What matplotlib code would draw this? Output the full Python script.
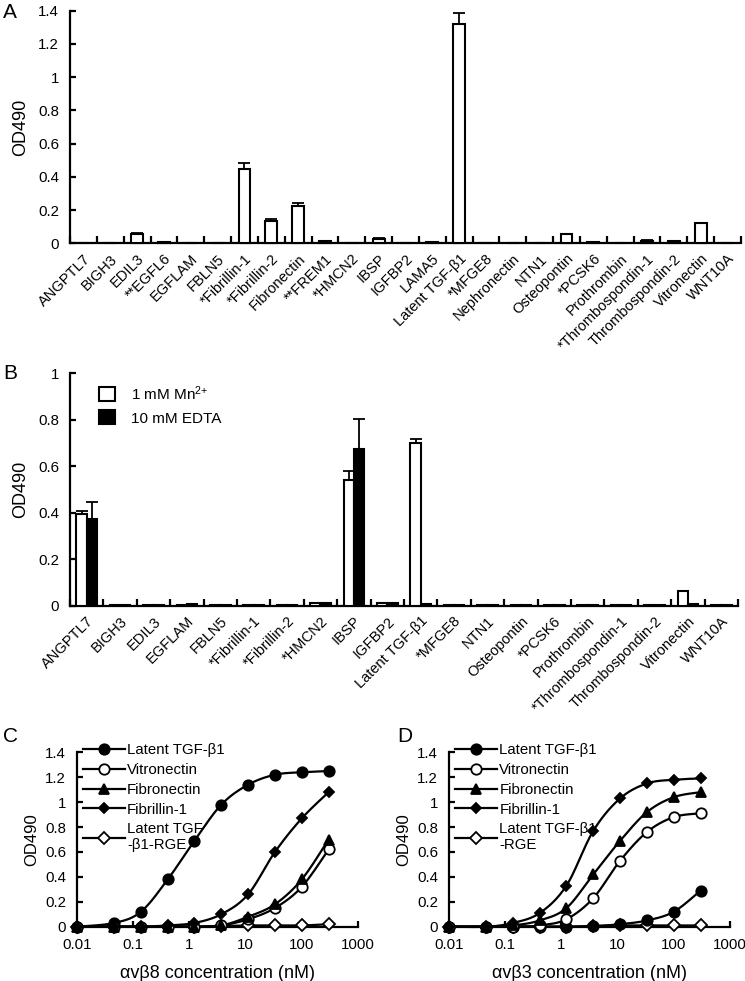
import numpy as np
import matplotlib
matplotlib.use("Agg")
import matplotlib.pyplot as plt
from matplotlib.ticker import FixedLocator, NullFormatter, FuncFormatter
from matplotlib.patches import Patch
from matplotlib.lines import Line2D

plt.rcParams['font.family'] = ['Liberation Sans', 'DejaVu Sans']
plt.rcParams['mathtext.fontset'] = 'custom'
plt.rcParams['mathtext.rm'] = 'Liberation Sans'
plt.rcParams['mathtext.it'] = 'Liberation Sans'

# ---------------- Panel A data ----------------
cats_a = ["ANGPTL7", "BIGH3", "EDIL3", "**EGFL6", "EGFLAM", "FBLN5", "*Fibrillin-1",
          "*Fibrillin-2", "Fibronectin", "**FREM1", "*HMCN2", "IBSP", "IGFBP2", "LAMA5",
          "Latent TGF-β1", "*MFGE8", "Nephronectin", "NTN1", "Osteopontin", "*PCSK6",
          "Prothrombin", "*Thrombospondin-1", "Thrombospondin-2", "Vitronectin", "WNT10A"]
vals_a = [0.002, 0.002, 0.057, 0.008, 0.003, 0.004, 0.446, 0.134, 0.226, 0.015, 0.003,
          0.028, 0.003, 0.006, 1.321, 0.003, 0.003, 0.003, 0.054, 0.007, 0.003, 0.015,
          0.015, 0.120, 0.004]
err_a = [0.0, 0.0, 0.004, 0.0, 0.0, 0.0, 0.037, 0.011, 0.014, 0.0, 0.0, 0.003, 0.0, 0.0,
         0.068, 0.0, 0.0, 0.0, 0.002, 0.0, 0.0, 0.002, 0.0, 0.002, 0.0]

# ---------------- Panel B data ----------------
cats_b = ["ANGPTL7", "BIGH3", "EDIL3", "EGFLAM", "FBLN5", "*Fibrillin-1", "*Fibrillin-2",
          "*HMCN2", "IBSP", "IGFBP2", "Latent TGF-β1", "*MFGE8", "NTN1", "Osteopontin",
          "*PCSK6", "Prothrombin", "*Thrombospondin-1", "Thrombospondin-2", "Vitronectin",
          "WNT10A"]
mn_b = [0.393, 0.003, 0.003, 0.005, 0.003, 0.003, 0.003, 0.010, 0.542, 0.010, 0.700,
        0.004, 0.003, 0.003, 0.003, 0.003, 0.003, 0.003, 0.065, 0.004]
mn_err_b = [0.015, 0, 0, 0, 0, 0, 0, 0, 0.038, 0, 0.018, 0, 0, 0, 0, 0, 0, 0, 0, 0]
edta_b = [0.373, 0.003, 0.003, 0.006, 0.003, 0.003, 0.003, 0.010, 0.676, 0.012, 0.008,
          0.003, 0.003, 0.003, 0.003, 0.003, 0.003, 0.003, 0.008, 0.004]
edta_err_b = [0.073, 0, 0, 0, 0, 0, 0, 0, 0.129, 0, 0, 0, 0, 0, 0, 0, 0, 0, 0, 0]
legend_b = ["1 mM Mn$^{2{+}}$", "10 mM EDTA"]

# ---------------- Panels C/D data ----------------
conc = [0.01, 0.046, 0.137, 0.412, 1.23, 3.7, 11.1, 33.3, 100, 300]
c_latent = [0.0, 0.03, 0.12, 0.38, 0.69, 0.98, 1.14, 1.22, 1.24, 1.25]
c_vitro = [0.0, 0.0, 0.0, 0.0, 0.0, 0.01, 0.06, 0.15, 0.32, 0.62]
c_fibro = [0.0, 0.0, 0.0, 0.0, 0.0, 0.01, 0.08, 0.18, 0.38, 0.70]
c_fbn1 = [0.0, 0.0, 0.0, 0.01, 0.03, 0.10, 0.26, 0.60, 0.87, 1.08]
c_rge = [0.0, 0.0, 0.0, 0.0, 0.0, 0.005, 0.01, 0.01, 0.01, 0.02]

d_latent = [0.0, 0.0, 0.0, 0.0, 0.0, 0.005, 0.02, 0.05, 0.12, 0.29]
d_vitro = [0.0, 0.0, 0.0, 0.01, 0.06, 0.23, 0.53, 0.76, 0.88, 0.91]
d_fibro = [0.0, 0.0, 0.01, 0.05, 0.15, 0.42, 0.69, 0.92, 1.04, 1.08]
d_fbn1 = [0.0, 0.0, 0.03, 0.11, 0.33, 0.77, 1.03, 1.15, 1.18, 1.19]
d_rge = [0.0, 0.0, 0.0, 0.0, 0.0, 0.005, 0.01, 0.01, 0.01, 0.01]

xticks_cd = [0.01, 0.1, 1, 10, 100, 1000]
yticks_cd = [0, 0.2, 0.4, 0.6, 0.8, 1.0, 1.2, 1.4]

W, H = 745, 981
fig = plt.figure(figsize=(W / 100, H / 100), dpi=100)


def fr(left, top, right, bottom):
    return [left / W, 1 - bottom / H, (right - left) / W, (bottom - top) / H]


LW = 1.6
TICK_FS = 10.8


def style_axes(ax):
    for s in ["top", "right"]:
        ax.spines[s].set_visible(False)
    for s in ["left", "bottom"]:
        ax.spines[s].set_linewidth(LW)
    ax.tick_params(axis="both", which="major", direction="in", width=LW, length=4,
                   labelsize=TICK_FS)
    ax.tick_params(axis="y", pad=8)


def ytick_fmt(v, pos):
    return "%g" % round(v, 2)


def category_axis(ax, cats):
    n = len(cats)
    ax.set_xlim(-0.5, n - 0.5)
    ax.xaxis.set_major_locator(FixedLocator(np.arange(-0.5, n)))
    ax.xaxis.set_major_formatter(NullFormatter())
    ax.xaxis.set_minor_locator(FixedLocator(np.arange(n)))
    ax.set_xticklabels(cats, minor=True, rotation=45, ha="right", va="top",
                       rotation_mode="anchor", fontsize=10.5)
    ax.tick_params(axis="x", which="minor", length=0, pad=6)
    ax.tick_params(axis="x", which="major", length=5)


# ---------------- Panel A ----------------
axA = fig.add_axes(fr(70, 10.7, 741, 243.3))
style_axes(axA)
xa = np.arange(len(cats_a))
axA.bar(xa, vals_a, width=0.44, color="white", edgecolor="black", linewidth=1.5,
        yerr=[np.zeros(len(err_a)), err_a], capsize=4,
        error_kw=dict(elinewidth=1.3, capthick=1.3, ecolor="black"), zorder=3)
axA.set_ylim(0, 1.4)
axA.set_yticks([0, 0.2, 0.4, 0.6, 0.8, 1.0, 1.2, 1.4])
axA.yaxis.set_major_formatter(FuncFormatter(ytick_fmt))
category_axis(axA, cats_a)
axA.set_ylabel("OD490", fontsize=13, labelpad=6)
for b in axA.patches:
    b.set_clip_on(False)

# ---------------- Panel B ----------------
axB = fig.add_axes(fr(70, 373.3, 738, 605.7))
style_axes(axB)
xb = np.arange(len(cats_b))
bw = 0.31
axB.bar(xb - bw / 2, mn_b, width=bw, color="white", edgecolor="black", linewidth=1.5,
        yerr=[np.zeros(len(mn_err_b)), mn_err_b], capsize=4,
        error_kw=dict(elinewidth=1.3, capthick=1.3, ecolor="black"), zorder=3)
axB.bar(xb + bw / 2, edta_b, width=bw, color="black", edgecolor="black", linewidth=1.5,
        yerr=[np.zeros(len(edta_err_b)), edta_err_b], capsize=4,
        error_kw=dict(elinewidth=1.3, capthick=1.3, ecolor="black"), zorder=3)
axB.set_ylim(0, 1.0)
axB.set_yticks([0, 0.2, 0.4, 0.6, 0.8, 1.0])
axB.yaxis.set_major_formatter(FuncFormatter(ytick_fmt))
category_axis(axB, cats_b)
axB.set_ylabel("OD490", fontsize=13, labelpad=6)
handles_b = [Patch(facecolor="white", edgecolor="black", linewidth=1.5),
             Patch(facecolor="black", edgecolor="black", linewidth=1.5)]
axB.legend(handles_b, legend_b, loc="upper left", bbox_to_anchor=(0.028, 1.0),
           frameon=False, fontsize=11, handlelength=1.05, handleheight=1.05,
           handletextpad=1.0, labelspacing=0.5, borderaxespad=0.3)


# ---------------- Panels C / D ----------------
def smooth_curve(x, y, n=24):
    lx = np.log10(np.asarray(x, float))
    pts = np.column_stack([lx, np.asarray(y, float)])
    P = np.vstack([pts[0], pts, pts[-1]])
    t = np.linspace(0, 1, n)[:, None]
    h00 = 2 * t**3 - 3 * t**2 + 1
    h10 = t**3 - 2 * t**2 + t
    h01 = -2 * t**3 + 3 * t**2
    h11 = t**3 - t**2
    segs = []
    for i in range(len(pts) - 1):
        p0, p1, p2, p3 = P[i], P[i + 1], P[i + 2], P[i + 3]
        m1 = (p2 - p0) / 2
        m2 = (p3 - p1) / 2
        segs.append(h00 * p1 + h10 * m1 + h01 * p2 + h11 * m2)
    c = np.vstack(segs)
    return 10 ** c[:, 0], c[:, 1]


def curve_panel(ax, series, labels, xlabel):
    style_axes(ax)
    ax.set_xscale("log")
    ax.set_xlim(0.01, 1000)
    ax.set_ylim(0, 1.4)
    ax.xaxis.set_major_locator(FixedLocator(xticks_cd))
    ax.xaxis.set_major_formatter(FuncFormatter(lambda v, p: "%g" % v))
    ax.xaxis.set_minor_locator(FixedLocator([]))
    ax.set_yticks(yticks_cd)
    ax.yaxis.set_major_formatter(FuncFormatter(ytick_fmt))
    ax.tick_params(axis="x", pad=8)
    styles = [dict(marker="o", mfc="black", ms=7.5),
              dict(marker="o", mfc="white", ms=7.5),
              dict(marker="^", mfc="black", ms=7.5),
              dict(marker="D", mfc="black", ms=5.5),
              dict(marker="D", mfc="white", ms=6.5)]
    for k in [4, 0, 1, 2, 3]:
        y = series[k]
        sx, sy = smooth_curve(conc, y)
        ax.plot(sx, sy, color="black", lw=1.6, clip_on=False, zorder=3)
        ax.plot(conc, y, linestyle="none", color="black", mec="black", mew=1.3,
                clip_on=False, zorder=4, **styles[k])
    handles = [Line2D([], [], color="black", lw=1.6, mec="black", mew=1.3, **styles[k])
               for k in range(5)]
    ax.legend(handles, labels, loc="upper left", bbox_to_anchor=(0.0, 1.085),
              frameon=False, fontsize=10.8, handlelength=2.8, handletextpad=0.15,
              labelspacing=0.38, borderaxespad=0.0)
    ax.set_ylabel("OD490", fontsize=12, labelpad=4)
    bb = ax.get_position()
    fig.text(bb.x0 + bb.width / 2, 1 - 973 / H, xlabel, fontsize=13,
             ha="center", va="center")


axC = fig.add_axes(fr(77, 752.3, 358, 926.7))
curve_panel(axC, [c_latent, c_vitro, c_fibro, c_fbn1, c_rge],
            ["Latent TGF-β1", "Vitronectin", "Fibronectin", "Fibrillin-1",
             "Latent TGF\n-β1-RGE"], "αvβ8 concentration (nM)")

axD = fig.add_axes(fr(449, 752.3, 730, 926.7))
curve_panel(axD, [d_latent, d_vitro, d_fibro, d_fbn1, d_rge],
            ["Latent TGF-β1", "Vitronectin", "Fibronectin", "Fibrillin-1",
             "Latent TGF-β1\n-RGE"], "αvβ3 concentration (nM)")

# panel letters
for lab, x, y in [("A", 3, 3), ("B", 3, 364), ("C", 3, 727), ("D", 397, 727)]:
    fig.text(x / W, 1 - y / H, lab, fontsize=15, ha="left", va="top")

fig.savefig("out.png", dpi=100)
